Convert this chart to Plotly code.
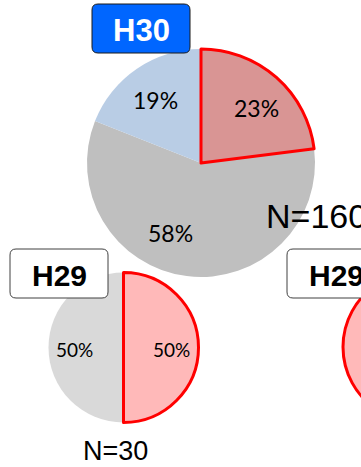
import plotly.graph_objects as go

# Canvas size in pixels (the right-hand chart runs past the visible edge)
W, H = 500, 467

# --- Data -------------------------------------------------------------
# Slices listed clockwise, with the highlighted ("該当") slice last so its
# red outline is drawn on top; the rotation puts it at 12 o'clock.
h30_categories = ["非該当", "その他", "該当"]
h30_values = [58, 19, 23]
h30_colors = ["#BFBFBF", "#B9CDE5", "#D99594"]
h30_n = 160

h29a_categories = ["非該当", "該当"]
h29a_values = [50, 50]
h29a_colors = ["#D9D9D9", "#FFB9B9"]
h29a_n = 30

h29b_categories = ["非該当", "該当"]
h29b_values = [10, 90]
h29b_colors = ["#D9D9D9", "#FFB9B9"]

year_labels = ["H30", "H29", "H29"]


def px(x):
    return x / W


def py(y):
    return 1 - y / H


def dom(x0, x1, y0, y1):
    return dict(x=[px(x0), px(x1)], y=[py(y1), py(y0)])


def pie(values, cats, colors, domain, line_w):
    widths = [0] * (len(values) - 1) + [line_w]
    lcols = ["rgba(0,0,0,0)"] * (len(values) - 1) + ["#FF0000"]
    rotation = 360 * values[-1] / sum(values)
    return go.Pie(
        values=values, labels=cats, sort=False,
        direction="clockwise", rotation=rotation,
        marker=dict(colors=colors, line=dict(color=lcols, width=widths)),
        textinfo="none", hoverinfo="label+percent",
        domain=domain, showlegend=False,
    )


fig = go.Figure()
fig.add_trace(pie(h30_values, h30_categories, h30_colors, dom(87, 315, 49, 277), 3))
fig.add_trace(pie(h29a_values, h29a_categories, h29a_colors, dom(48.5, 198.5, 272.5, 422.5), 3))
fig.add_trace(pie(h29b_values, h29b_categories, h29b_colors, dom(343, 493, 272, 422), 3))


def rounded_box(x0, y0, x1, y1, r, fill, line):
    rx, ry = r / W, r / H
    X0, X1, Y0, Y1 = px(x0), px(x1), py(y0), py(y1)
    path = (
        f"M {X0+rx},{Y0} L {X1-rx},{Y0} Q {X1},{Y0} {X1},{Y0-ry} "
        f"L {X1},{Y1+ry} Q {X1},{Y1} {X1-rx},{Y1} "
        f"L {X0+rx},{Y1} Q {X0},{Y1} {X0},{Y1+ry} "
        f"L {X0},{Y0-ry} Q {X0},{Y0} {X0+rx},{Y0} Z"
    )
    return dict(type="path", xref="paper", yref="paper", path=path,
                fillcolor=fill, line=dict(color=line, width=1), layer="above")


shapes = [
    rounded_box(92, 4, 190, 53, 6, "#0066FF", "#1A1A1A"),
    rounded_box(10, 249, 108, 298, 6, "#FFFFFF", "#404040"),
    rounded_box(287, 249, 385, 298, 6, "#FFFFFF", "#404040"),
]

annotations = []


def note(x, y, text, size, family="Lato", color="#000000", bold=False, xanchor="center"):
    if bold:
        text = f"<b>{text}</b>"
    annotations.append(dict(
        x=px(x), y=py(y), xref="paper", yref="paper", text=text,
        showarrow=False, xanchor=xanchor, yanchor="middle",
        font=dict(size=size, family=family, color=color),
    ))


# Slice percentages (gray, blue, red)
for (x, y), v in zip([(170, 233), (155, 100), (256, 108)], h30_values):
    note(x, y, f"{v}%", 23)
for (x, y), v in zip([(74, 349), (171, 349)], h29a_values):
    note(x, y, f"{v}%", 19)

# Sample sizes
note(264, 216, f"N={h30_n}", 34, family="Liberation Sans", xanchor="left")
note(81, 451, f"N={h29a_n}", 27, family="Liberation Sans", xanchor="left")

# Year tags
note(141, 30, year_labels[0], 31, family="Liberation Sans", color="#FFFFFF", bold=True)
note(59, 275, year_labels[1], 30, family="Liberation Sans", bold=True)
note(336, 275, year_labels[2], 30, family="Liberation Sans", bold=True)

fig.update_layout(
    width=W, height=H, autosize=False,
    margin=dict(l=0, r=0, t=0, b=0, pad=0),
    paper_bgcolor="#FFFFFF", plot_bgcolor="#FFFFFF",
    shapes=shapes, annotations=annotations,
)

fig.write_html(
    "out.html",
    config={"displayModeBar": False},
    post_script=(
        "document.body.style.margin='0';"
        "document.body.style.overflow='hidden';"
        "document.documentElement.style.overflow='hidden';"
    ),
)
